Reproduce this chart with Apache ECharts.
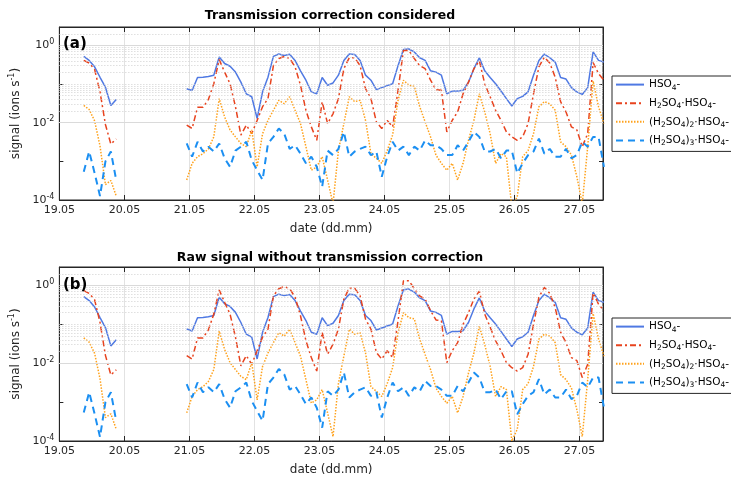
<!DOCTYPE html>
<html><head><meta charset="utf-8">
<script src="https://cdn.jsdelivr.net/npm/echarts@6/dist/echarts.min.js"></script>
<style>html,body{margin:0;padding:0;background:#fff}#c{width:731px;height:477px}</style>
</head><body><div id="c"></div>
<script>
// ---------- data ----------
const dayTicks = [19, 20, 21, 22, 23, 24, 25, 26, 27];
const tickLabels = ['19.05', '20.05', '21.05', '22.05', '23.05', '24.05', '25.05', '26.05', '27.05'];
const seriesNames = ['HSO4-', 'H2SO4·HSO4-', '(H2SO4)2·HSO4-', '(H2SO4)3·HSO4-'];
const legendLabels = ['HSO{sub|4}-', 'H{sub|2}SO{sub|4}·HSO{sub|4}-', '(H{sub|2}SO{sub|4}){sub|2}·HSO{sub|4}-', '(H{sub|2}SO{sub|4}){sub|3}·HSO{sub|4}-'];
const panelTitles = ['Transmission correction considered', 'Raw signal without transmission correction'];
const panelLetters = ['(a)', '(b)'];
// sampling (days since start of May, 2-hour steps)
const seg1Start = 19.375, seg2Start = 20.958, stepDays = 1 / 12;

// HSO4- (same in both panels)
const hso4Seg1 = [0.52, 0.41, 0.28, 0.15, 0.083, 0.028, 0.040];
const hso4Seg2 = [0.076, 0.068, 0.148, 0.151, 0.158, 0.17, 0.50, 0.34, 0.29, 0.204, 0.112, 0.056, 0.047, 0.0129, 0.063, 0.151, 0.52, 0.60, 0.55, 0.59, 0.41, 0.22, 0.126, 0.063, 0.056, 0.148, 0.093, 0.107, 0.17, 0.41, 0.60, 0.58, 0.41, 0.17, 0.126, 0.072, 0.081, 0.091, 0.102, 0.30, 0.78, 0.81, 0.68, 0.48, 0.41, 0.22, 0.204, 0.17, 0.056, 0.066, 0.066, 0.069, 0.112, 0.25, 0.48, 0.22, 0.148, 0.102, 0.066, 0.042, 0.027, 0.042, 0.048, 0.063, 0.17, 0.41, 0.60, 0.48, 0.37, 0.148, 0.135, 0.081, 0.063, 0.054, 0.081, 0.68, 0.41, 0.37];
// H2SO4·HSO4- (panel a, corrected)
const dimerSeg1A = [0.41, 0.35, 0.24, 0.063, 0.009, 0.0028, 0.0038];
const dimerSeg2A = [0.0087, 0.0071, 0.025, 0.025, 0.040, 0.102, 0.43, 0.204, 0.102, 0.026, 0.0048, 0.0087, 0.0052, 0.0115, 0.026, 0.042, 0.30, 0.46, 0.52, 0.46, 0.28, 0.093, 0.021, 0.0078, 0.0035, 0.035, 0.0095, 0.017, 0.042, 0.25, 0.48, 0.48, 0.30, 0.076, 0.042, 0.0105, 0.0071, 0.0115, 0.0078, 0.069, 0.74, 0.74, 0.46, 0.30, 0.25, 0.126, 0.072, 0.069, 0.0058, 0.0115, 0.019, 0.056, 0.112, 0.25, 0.40, 0.102, 0.047, 0.021, 0.0115, 0.0058, 0.0043, 0.0035, 0.0043, 0.0095, 0.056, 0.28, 0.50, 0.35, 0.151, 0.035, 0.019, 0.0078, 0.0065, 0.0024, 0.0052, 0.36, 0.186, 0.126];
// (H2SO4)2·HSO4- (panel a)
const trimerSeg1A = [0.028, 0.022, 0.0112, 0.0025, 0.00025, 0.00032, 0.000126];
const trimerSeg2A = [0.00033, 0.00089, 0.00132, 0.00158, 0.0021, 0.0043, 0.042, 0.0141, 0.0065, 0.0043, 0.0029, 0.0024, 0.0065, 0.00072, 0.0052, 0.0115, 0.021, 0.038, 0.031, 0.047, 0.021, 0.0095, 0.0024, 0.00059, 0.00072, 0.00132, 0.00033, 0.00008, 0.0019, 0.0095, 0.047, 0.035, 0.038, 0.0115, 0.00158, 0.0012, 0.00089, 0.0019, 0.0048, 0.038, 0.126, 0.093, 0.087, 0.026, 0.0105, 0.0043, 0.00145, 0.00089, 0.00059, 0.00089, 0.00033, 0.00089, 0.0035, 0.0115, 0.056, 0.019, 0.0052, 0.00089, 0.00158, 0.00132, 0.000063, 0.000123, 0.00132, 0.0019, 0.0052, 0.026, 0.035, 0.031, 0.021, 0.0032, 0.0024, 0.00145, 0.0004, 0.00008, 0.0024, 0.12, 0.026, 0.0095];
// (H2SO4)3·HSO4- (same in both panels)
const tetramerSeg1 = [0.00054, 0.0018, 0.0005, 0.000126, 0.001, 0.0018, 0.00032];
const tetramerSeg2 = [0.0029, 0.00132, 0.0032, 0.0018, 0.0024, 0.0018, 0.0029, 0.0012, 0.00072, 0.0019, 0.0024, 0.0032, 0.00107, 0.00059, 0.00033, 0.0029, 0.0043, 0.0071, 0.0052, 0.0021, 0.0026, 0.00158, 0.00089, 0.00132, 0.00072, 0.00022, 0.0019, 0.00145, 0.0021, 0.0058, 0.00132, 0.0018, 0.0021, 0.0024, 0.00145, 0.0018, 0.0004, 0.00132, 0.0032, 0.0019, 0.0024, 0.00145, 0.0024, 0.0019, 0.0035, 0.0026, 0.0026, 0.0021, 0.00145, 0.00145, 0.0026, 0.0019, 0.0032, 0.0058, 0.0043, 0.0018, 0.0018, 0.0021, 0.0012, 0.0019, 0.0019, 0.00049, 0.00089, 0.00145, 0.0018, 0.0039, 0.00158, 0.0021, 0.00132, 0.00132, 0.0021, 0.0012, 0.00145, 0.0032, 0.0024, 0.0043, 0.0043, 0.00072];
// panel b (raw)
const dimerSeg1B = [0.74, 0.63, 0.43, 0.113, 0.016, 0.005, 0.0068];
const dimerSeg2B = [0.0157, 0.0128, 0.045, 0.045, 0.072, 0.184, 0.77, 0.37, 0.184, 0.047, 0.0086, 0.0157, 0.0094, 0.021, 0.047, 0.076, 0.54, 0.83, 0.94, 0.83, 0.50, 0.167, 0.038, 0.014, 0.0063, 0.063, 0.017, 0.031, 0.076, 0.45, 0.86, 0.86, 0.54, 0.137, 0.076, 0.019, 0.0128, 0.021, 0.014, 0.124, 1.33, 1.33, 0.83, 0.54, 0.45, 0.227, 0.13, 0.124, 0.0104, 0.021, 0.034, 0.10, 0.20, 0.45, 0.72, 0.184, 0.085, 0.038, 0.021, 0.0104, 0.0077, 0.0063, 0.0077, 0.017, 0.10, 0.50, 0.90, 0.63, 0.27, 0.063, 0.034, 0.014, 0.0117, 0.0043, 0.0094, 0.65, 0.33, 0.227];
const trimerSeg1B = [0.045, 0.035, 0.018, 0.004, 0.0004, 0.0005, 0.0002];
const trimerSeg2B = [0.00053, 0.0014, 0.0021, 0.0025, 0.0034, 0.0069, 0.067, 0.0226, 0.0104, 0.0069, 0.0046, 0.0038, 0.0104, 0.00115, 0.0083, 0.0184, 0.034, 0.061, 0.05, 0.075, 0.034, 0.0152, 0.0038, 0.00094, 0.00115, 0.0021, 0.00053, 0.00013, 0.003, 0.0152, 0.075, 0.056, 0.061, 0.0184, 0.0025, 0.0019, 0.0014, 0.003, 0.0077, 0.061, 0.20, 0.149, 0.139, 0.042, 0.0168, 0.0069, 0.0023, 0.0014, 0.00094, 0.0014, 0.00053, 0.0014, 0.0056, 0.0184, 0.09, 0.03, 0.0083, 0.0014, 0.0025, 0.0021, 0.0001, 0.0002, 0.0021, 0.003, 0.0083, 0.042, 0.056, 0.05, 0.034, 0.0051, 0.0038, 0.0023, 0.00064, 0.00013, 0.0038, 0.19, 0.042, 0.0152];

// ---------- build ----------
const FONT = 'DejaVu Sans';
const AX = '#262626';
const colors = ['#4f79e3', '#e8431e', '#ffa21c', '#1b8ff2'];
const lineTypes = ['solid', [6, 3, 2, 3], [1.5, 1.5], [7, 5]];
const lineWidths = [1.5, 1.5, 1.5, 2];

function build(s1, s2) {
  const d = [];
  s1.forEach((v, i) => d.push([seg1Start + i * stepDays, v]));
  d.push([20.4, null]);
  s2.forEach((v, i) => d.push([seg2Start + i * stepDays, v]));
  return d;
}
const panelData = [
  [build(hso4Seg1, hso4Seg2), build(dimerSeg1A, dimerSeg2A), build(trimerSeg1A, trimerSeg2A), build(tetramerSeg1, tetramerSeg2)],
  [build(hso4Seg1, hso4Seg2), build(dimerSeg1B, dimerSeg2B), build(trimerSeg1B, trimerSeg2B), build(tetramerSeg1, tetramerSeg2)]
];

const grids = [
  { left: 57, top: 27, width: 546, height: 173, show: true, borderColor: AX, borderWidth: 1, backgroundColor: '#fff' },
  { left: 57, top: 267, width: 546, height: 175, show: true, borderColor: AX, borderWidth: 1, backgroundColor: '#fff' }
];
const xMin = 19, xMax = 27.36;

function xLabel(v) {
  const r = Math.round(v);
  if (Math.abs(v - r) > 1e-6) return '';
  const i = dayTicks.indexOf(r);
  return i >= 0 ? tickLabels[i] : '';
}
function yLabel(v) {
  const l = Math.log10(v), e = Math.round(l);
  if (Math.abs(l - e) > 0.01 || e % 2 !== 0) return '';
  return '10{sup|' + e + '}';
}

const xAxes = [], yAxes = [], series = [], legends = [], graphics = [];
grids.forEach((g, gi) => {
  xAxes.push({
    type: 'value', gridIndex: gi, min: xMin, max: xMax, interval: 1,
    axisLine: { show: true, lineStyle: { color: AX, width: 1 } },
    axisTick: { inside: true, length: 5, lineStyle: { color: AX } },
    axisLabel: { formatter: xLabel, color: AX, fontSize: 11, fontFamily: FONT, margin: 5, showMaxLabel: false },
    splitLine: { show: true, lineStyle: { color: '#e2e2e2', width: 1 } },
    name: 'date (dd.mm)', nameLocation: 'middle', nameGap: 23,
    nameTextStyle: { color: AX, fontSize: 12, fontFamily: FONT }
  });
  xAxes.push({
    type: 'value', gridIndex: gi, position: 'top', min: xMin, max: xMax, interval: 1,
    axisLine: { show: true, lineStyle: { color: AX } },
    axisTick: { inside: true, length: 5, lineStyle: { color: AX } },
    axisLabel: { show: false }, splitLine: { show: false }
  });
  yAxes.push({
    type: 'log', logBase: 10, gridIndex: gi, min: 1e-4, max: 3,
    axisLine: { show: true, lineStyle: { color: AX } },
    axisTick: { inside: true, length: 4, lineStyle: { color: AX } },
    axisLabel: {
      formatter: yLabel, color: AX, fontSize: 11, fontFamily: FONT, margin: 5,
      rich: { sup: { fontSize: 8, fontFamily: FONT, color: AX, padding: [0, 0, 7, 0] } }
    },
    splitLine: { show: false },
    name: 'signal (ions s{sup|-1})', nameLocation: 'middle', nameRotate: 90, nameGap: 27,
    nameTextStyle: { color: AX, fontSize: 12, fontFamily: FONT,
      rich: { sup: { fontSize: 8, fontFamily: FONT, color: AX, padding: [0, 0, 7, 0] } } }
  });
  yAxes.push({
    type: 'log', logBase: 10, gridIndex: gi, position: 'right', min: 1e-4, max: 3,
    axisLine: { show: true, lineStyle: { color: AX } },
    axisTick: { inside: true, length: 4, lineStyle: { color: AX } },
    axisLabel: { show: false }, splitLine: { show: false }
  });
  // horizontal grid lines (major solid, minor dotted)
  const gridLines = [];
  for (let e = -4; e <= 0; e++) {
    for (let m = 1; m <= 9; m++) {
      const v = m * Math.pow(10, e);
      if (v <= 1e-4 * 1.001 || v > 2.5) continue;
      const major = (m === 1 && e % 2 === 0);
      gridLines.push({ yAxis: v, lineStyle: major ? { color: '#dadada', type: 'solid', width: 1 } : { color: '#cfcfcf', type: [1, 2], width: 1 } });
    }
  }
  series.push({
    type: 'line', name: '__grid' + gi, xAxisIndex: gi * 2, yAxisIndex: gi * 2, data: [], z: 0, silent: true,
    markLine: { silent: true, symbol: ['none', 'none'], label: { show: false }, animation: false, data: gridLines }
  });
  seriesNames.forEach((n, si) => {
    series.push({
      type: 'line', name: n, xAxisIndex: gi * 2, yAxisIndex: gi * 2,
      data: panelData[gi][si], showSymbol: false, symbol: 'none', connectNulls: false,
      animation: false, z: 2 + si, clip: true,
      lineStyle: { color: colors[si], width: lineWidths[si], type: lineTypes[si] },
      itemStyle: { color: colors[si] }
    });
  });
  legends.push({
    data: seriesNames, orient: 'vertical', left: 612, top: gi === 0 ? 76 : 318,
    formatter: n => legendLabels[seriesNames.indexOf(n)],
    itemWidth: 28, itemHeight: 14, itemGap: 6, padding: [3, 14, 4, 3],
    itemStyle: { opacity: 0, borderWidth: 0 },
    borderColor: AX, borderWidth: 1, backgroundColor: '#fff', selectedMode: false,
    textStyle: { color: '#000', fontSize: 10.5, fontFamily: FONT,
      rich: { sub: { fontSize: 7.5, fontFamily: FONT, color: '#000', padding: [6, 0, 0, 0] } } }
  });
  graphics.push({
    type: 'text', x: 330, y: gi === 0 ? 16 : 258, z: 10,
    style: { text: panelTitles[gi], font: 'bold 12.5px "' + FONT + '"', fill: '#000', textAlign: 'center', textVerticalAlign: 'middle' }
  });
  graphics.push({
    type: 'text', x: 63, y: gi === 0 ? 44 : 285, z: 10,
    style: { text: panelLetters[gi], font: 'bold 15px "' + FONT + '"', fill: '#000', textAlign: 'left', textVerticalAlign: 'middle' }
  });
});

const chart = echarts.init(document.getElementById('c'), null, { renderer: 'canvas' });
chart.setOption({
  animation: false,
  backgroundColor: '#fff',
  grid: grids, xAxis: xAxes, yAxis: yAxes, series: series, legend: legends, graphic: graphics
});
</script></body></html>
